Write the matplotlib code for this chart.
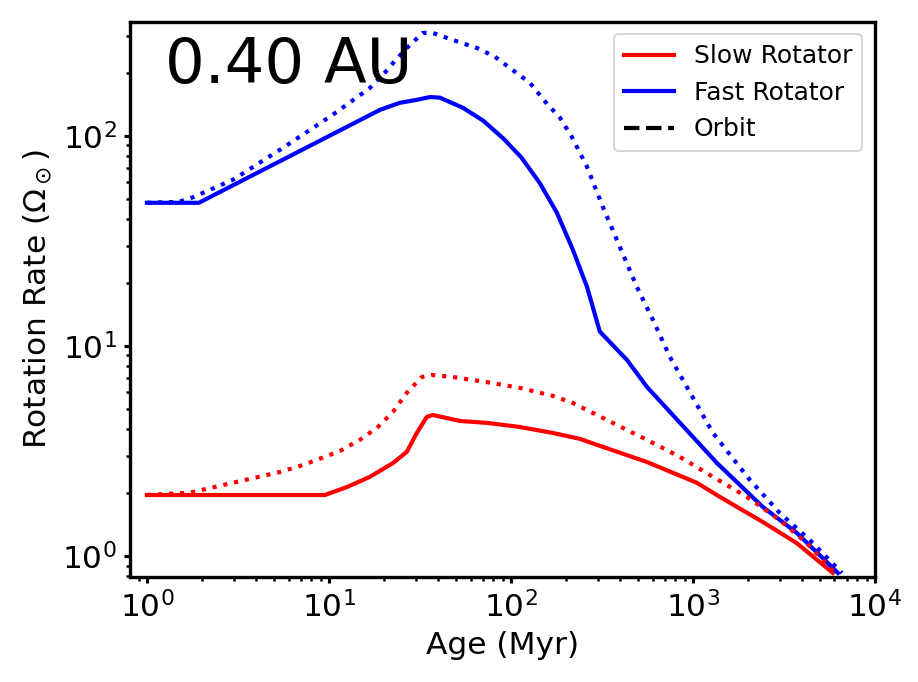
import matplotlib
matplotlib.use("Agg")
import matplotlib.pyplot as plt

# Age (Myr) and rotation rate (solar units)
slow_age = [1.0, 9.5, 12.6, 16.8, 22.5, 26.8, 30.4, 34.5, 37.2, 52.5, 73.8, 112, 170, 239,
            297, 559, 1052, 1407, 2425, 3726, 5877]
slow_rate = [1.95, 1.95, 2.13, 2.38, 2.77, 3.13, 3.85, 4.59, 4.69, 4.39, 4.3, 4.11, 3.85, 3.61,
             3.38, 2.8, 2.23, 1.91, 1.45, 1.15, 0.83]

slow_orb_age = [1.0, 1.72, 2.97, 5.38, 6.92, 8.9, 11.5, 14.8, 18.6, 22.5, 26.8, 32.4, 36.8,
                48, 73.8, 112, 170, 219, 363, 559, 849, 1289, 1982, 3006, 4227, 6030]
slow_orb_rate = [1.95, 2.0, 2.23, 2.51, 2.68, 2.9, 3.16, 3.57, 4.11, 4.85, 5.98, 7.11, 7.27,
                 7.11, 6.72, 6.31, 5.78, 5.35, 4.3, 3.57, 2.96, 2.38, 1.91, 1.48, 1.15, 0.83]

fast_age = [1.0, 1.93, 19.1, 24.5, 30.4, 35.9, 40.7, 54.5, 70.5, 91, 114, 144, 179, 219,
            262, 308, 434, 559, 1000, 1355, 2425, 3726, 6265]
fast_rate = [48, 48, 133, 143.6, 148.4, 153, 152, 136, 118, 97, 79, 59.7, 43.0, 28.7,
             19.1, 11.7, 8.58, 6.38, 3.69, 2.77, 1.71, 1.287, 0.83]

fast_orb_age = [1.0, 1.5, 1.79, 2.97, 5.38, 10.5, 16.8, 20.3, 22.5, 26.8, 32.8, 37.2, 48,
                65, 81.7, 102, 127, 158, 186, 216, 262, 320, 397, 492, 603, 748,
                881, 1289, 2057, 3006, 4395, 6590]
fast_orb_rate = [48, 48.5, 51, 61.8, 85.8, 126, 169, 200, 222, 262, 309, 309, 286,
                 262, 238, 206, 179, 142, 122, 99, 71.2, 45.9, 29.6, 19.1, 13.3, 8.86,
                 6.89, 3.85, 2.3, 1.6, 1.19, 0.83]

fig = plt.figure(figsize=(6.12, 4.5467), dpi=150)
ax = fig.add_axes([0.1416, 0.154, 0.8114, 0.814])

ax.plot(slow_age, slow_rate, color='red', lw=2, label='Slow Rotator')
ax.plot(fast_age, fast_rate, color='blue', lw=2, label='Fast Rotator')
ax.plot([], [], 'k--', lw=2, label='Orbit')
ax.plot(slow_orb_age, slow_orb_rate, color='red', lw=2, ls=':')
ax.plot(fast_orb_age, fast_orb_rate, color='blue', lw=2, ls=':')

ax.set_xscale('log')
ax.set_yscale('log')
ax.set_xlim(0.807, 1e4)
ax.set_ylim(0.794, 349)

ax.set_xlabel('Age (Myr)', fontsize=15)
ax.set_ylabel(r'Rotation Rate ($\Omega_\odot$)', fontsize=15)
ax.tick_params(which='major', labelsize=15, length=3, width=1.5)
ax.tick_params(which='minor', length=2, width=1.2)
for s in ax.spines.values():
    s.set_linewidth(1.6)

ax.text(0.047, 0.89, '0.40 AU', transform=ax.transAxes, fontsize=30)
ax.legend(loc='upper right', fontsize=12)

fig.savefig('out.png', dpi=150)
